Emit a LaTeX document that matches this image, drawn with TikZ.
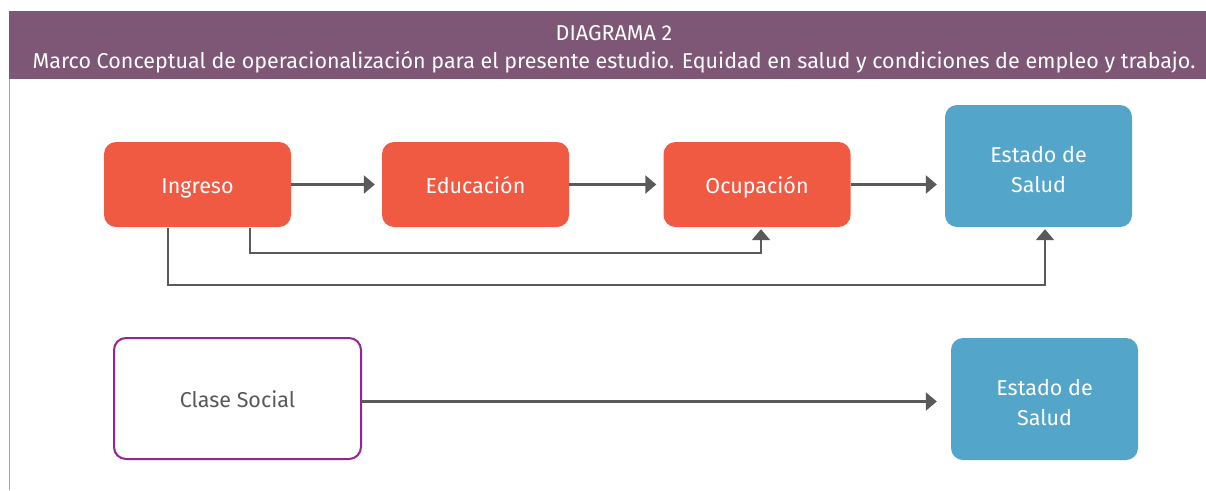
\documentclass[tikz,border=0pt]{standalone}
\usepackage{fontspec}
\setmainfont{Fira Sans}
\usetikzlibrary{arrows.meta,calc}
\definecolor{headpurple}{HTML}{7F5776}
\definecolor{boxred}{HTML}{F15A42}
\definecolor{boxblue}{HTML}{53A5C9}
\definecolor{edgepurple}{HTML}{93278F}
\definecolor{linegray}{HTML}{5A5A5A}
\definecolor{textgray}{HTML}{595959}
\begin{document}
\begin{tikzpicture}[x=1pt,y=-1pt]
            \tikzstyle{red box}=[rectangle,rounded corners=12pt,fill=boxred,text=white,minimum width=187pt,minimum height=85pt,text height=20pt,text depth=2pt,font=\fontsize{21.5}{25}\selectfont,align=center];
            \tikzstyle{blue box}=[rectangle,rounded corners=12pt,fill=boxblue,text=white,minimum width=187pt,minimum height=122pt,text height=55pt,text depth=2pt,font=\fontsize{21.5}{30}\selectfont,align=center];
            \tikzstyle{class box}=[rectangle,rounded corners=12pt,draw=edgepurple,line width=2pt,fill=white,text=textgray,minimum width=247pt,minimum height=121pt,text height=20pt,text depth=2pt,font=\fontsize{21.5}{25}\selectfont];
            \tikzstyle{conn}=[draw=linegray,line width=2.4pt,-{Triangle[length=11pt,width=18pt]}];
            \useasboundingbox (0,0) rectangle (1206,490);
            % header band
            \fill[headpurple] (9,11) rectangle (1206,79);
            \draw[color=headpurple!60,line width=1.2pt] (9.5,79)--(9.5,490);
            \node[text=white,align=center,font=\fontsize{21.5}{28}\selectfont] (head) at (614,49) {DIAGRAMA 2\\Marco Conceptual de operacionalización para el presente estudio. Equidad en salud y condiciones de empleo y trabajo.};
            % first model
            \node[red box] (ing) at (197.5,184.5) {Ingreso};
            \node[red box] (edu) at (475.5,184.5) {Educación};
            \node[red box] (ocu) at (757,184.5) {Ocupación};
            \node[blue box] (est) at (1038.5,166) {Estado de\\Salud};
            \draw[conn,shorten >=7pt] (ing) -- (edu);
            \draw[conn,shorten >=7pt] (edu) -- (ocu);
            \draw[conn,shorten >=8pt] (ocu.east) -- (ocu.east -| est.west);
            \draw[conn] ([xshift=52.5pt,yshift=-1pt]ing.south) |- ([xshift=4pt,yshift=-26pt]ocu.south) -- ([xshift=4pt,yshift=-2pt]ocu.south);
            \draw[conn] ([xshift=-29.5pt,yshift=-1pt]ing.south) |- ([xshift=6.5pt,yshift=-58pt]est.south) -- ([xshift=6.5pt,yshift=-2pt]est.south);
            % second model
            \node[class box] (cls) at (237.5,398.5) {Clase Social};
            \node[blue box] (est2) at (1044.5,399) {Estado de\\Salud};
            \draw[conn,shorten >=14pt] ([yshift=-3pt]cls.east) -- ([yshift=-3pt]cls.east -| est2.west);
\end{tikzpicture}
\end{document}
